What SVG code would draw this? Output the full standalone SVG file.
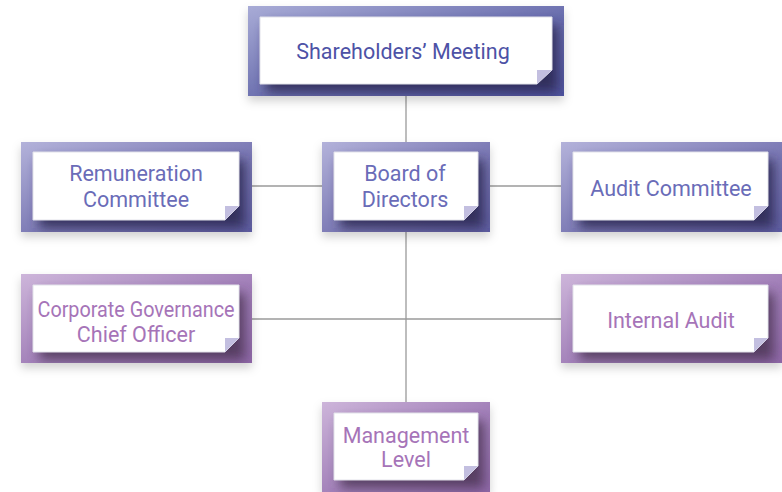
<svg xmlns="http://www.w3.org/2000/svg" width="782" height="492" viewBox="0 0 782 492">
<defs>
<linearGradient id="gBlue" x1="0" y1="0" x2="1" y2="1">
<stop offset="0" stop-color="#b3b2da"/><stop offset="0.55" stop-color="#7b79b4"/><stop offset="1" stop-color="#5f5ea2"/>
</linearGradient>
<linearGradient id="gBlueTop" x1="0" y1="0" x2="1" y2="1">
<stop offset="0" stop-color="#a8abd6"/><stop offset="0.55" stop-color="#6a6eae"/><stop offset="1" stop-color="#4f54a0"/>
</linearGradient>
<linearGradient id="gPurple" x1="0" y1="0" x2="1" y2="1">
<stop offset="0" stop-color="#cdb5da"/><stop offset="0.55" stop-color="#a17fb8"/><stop offset="1" stop-color="#8f68a8"/>
</linearGradient>
<filter id="blur" x="-20%" y="-30%" width="140%" height="160%"><feGaussianBlur stdDeviation="6"/></filter>
<filter id="drop" x="-10%" y="-20%" width="120%" height="150%"><feDropShadow dx="0" dy="5" stdDeviation="5" flood-color="#000" flood-opacity="0.18"/></filter>
<clipPath id="c1"><rect x="248" y="6" width="316" height="90"/></clipPath>
<clipPath id="c2"><rect x="21" y="142" width="231" height="90"/></clipPath>
<clipPath id="c3"><rect x="322" y="142" width="168" height="90"/></clipPath>
<clipPath id="c4"><rect x="561" y="142" width="221" height="90"/></clipPath>
<clipPath id="c5"><rect x="21" y="274" width="231" height="89"/></clipPath>
<clipPath id="c6"><rect x="561" y="274" width="221" height="89"/></clipPath>
<clipPath id="c7"><rect x="322" y="402" width="168" height="90"/></clipPath>
</defs>
<style>
.card{fill:#fff;stroke:#e2e2ea;stroke-width:1}
.fold{fill:#c3bfe0}
.sh{fill:#2a2850;opacity:0.85}
.shp{fill:#46304f;opacity:0.8}
.t{font-family:Roboto,"Liberation Sans",sans-serif;font-size:21.5px;text-anchor:middle}
.tb{fill:#6a6cb8}
.tp{fill:#a674b8}
.conn{stroke:#9a9a9a;stroke-width:1.3;fill:none}
</style>
<g id="connectors">
<line class="conn" x1="406" y1="96" x2="406" y2="402"/>
<line class="conn" x1="252" y1="186" x2="322" y2="186"/>
<line class="conn" x1="490" y1="186" x2="561" y2="186"/>
<line class="conn" x1="252" y1="319" x2="561" y2="319"/>
</g>
<g id="shareholders">
<rect x="248" y="6" width="316" height="90" fill="url(#gBlueTop)" filter="url(#drop)"/>
<g clip-path="url(#c1)"><rect class="sh" x="266" y="25" width="292" height="67" filter="url(#blur)"/></g>
<polygon class="card" points="260,17 552,17 552,70 537,84 260,84"/>
<polygon class="fold" points="537,70 552,70 537,84"/>
<text class="t" x="403" y="59" fill="#4d52a6">Shareholders’ Meeting</text>
</g>
<g id="remuneration">
<rect x="21" y="142" width="231" height="90" fill="url(#gBlue)" filter="url(#drop)"/>
<g clip-path="url(#c2)"><rect class="sh" x="39" y="160" width="206" height="68" filter="url(#blur)"/></g>
<polygon class="card" points="33,152 239,152 239,206 225,220 33,220"/>
<polygon class="fold" points="225,206 239,206 225,220"/>
<text class="t tb" x="136" y="181">Remuneration</text>
<text class="t tb" x="136" y="207">Committee</text>
</g>
<g id="board">
<rect x="322" y="142" width="168" height="90" fill="url(#gBlue)" filter="url(#drop)"/>
<g clip-path="url(#c3)"><rect class="sh" x="340" y="160" width="144" height="68" filter="url(#blur)"/></g>
<polygon class="card" points="334,152 478,152 478,206 464,220 334,220"/>
<polygon class="fold" points="464,206 478,206 464,220"/>
<text class="t tb" x="405" y="181">Board of</text>
<text class="t tb" x="405" y="207">Directors</text>
</g>
<g id="audit-committee">
<rect x="561" y="142" width="221" height="90" fill="url(#gBlue)" filter="url(#drop)"/>
<g clip-path="url(#c4)"><rect class="sh" x="579" y="160" width="195" height="68" filter="url(#blur)"/></g>
<polygon class="card" points="573,152 768,152 768,206 754,220 573,220"/>
<polygon class="fold" points="754,206 768,206 754,220"/>
<text class="t tb" x="671" y="196">Audit Committee</text>
</g>
<g id="corporate-governance">
<rect x="21" y="274" width="231" height="89" fill="url(#gPurple)" filter="url(#drop)"/>
<g clip-path="url(#c5)"><rect class="shp" x="39" y="293" width="206" height="67" filter="url(#blur)"/></g>
<polygon class="card" points="33,285 239,285 239,338 225,352 33,352"/>
<polygon class="fold" points="225,338 239,338 225,352"/>
<text class="t tp" x="136" y="317" textLength="197" lengthAdjust="spacingAndGlyphs">Corporate Governance</text>
<text class="t tp" x="136" y="342">Chief Officer</text>
</g>
<g id="internal-audit">
<rect x="561" y="274" width="221" height="89" fill="url(#gPurple)" filter="url(#drop)"/>
<g clip-path="url(#c6)"><rect class="shp" x="579" y="293" width="195" height="67" filter="url(#blur)"/></g>
<polygon class="card" points="573,285 768,285 768,338 754,352 573,352"/>
<polygon class="fold" points="754,338 768,338 754,352"/>
<text class="t tp" x="671" y="328">Internal Audit</text>
</g>
<g id="management">
<rect x="322" y="402" width="168" height="90" fill="url(#gPurple)" filter="url(#drop)"/>
<g clip-path="url(#c7)"><rect class="shp" x="340" y="421" width="144" height="67" filter="url(#blur)"/></g>
<polygon class="card" points="334,413 478,413 478,466 464,480 334,480"/>
<polygon class="fold" points="464,466 478,466 464,480"/>
<text class="t tp" x="406" y="443">Management</text>
<text class="t tp" x="406" y="467">Level</text>
</g>
</svg>
